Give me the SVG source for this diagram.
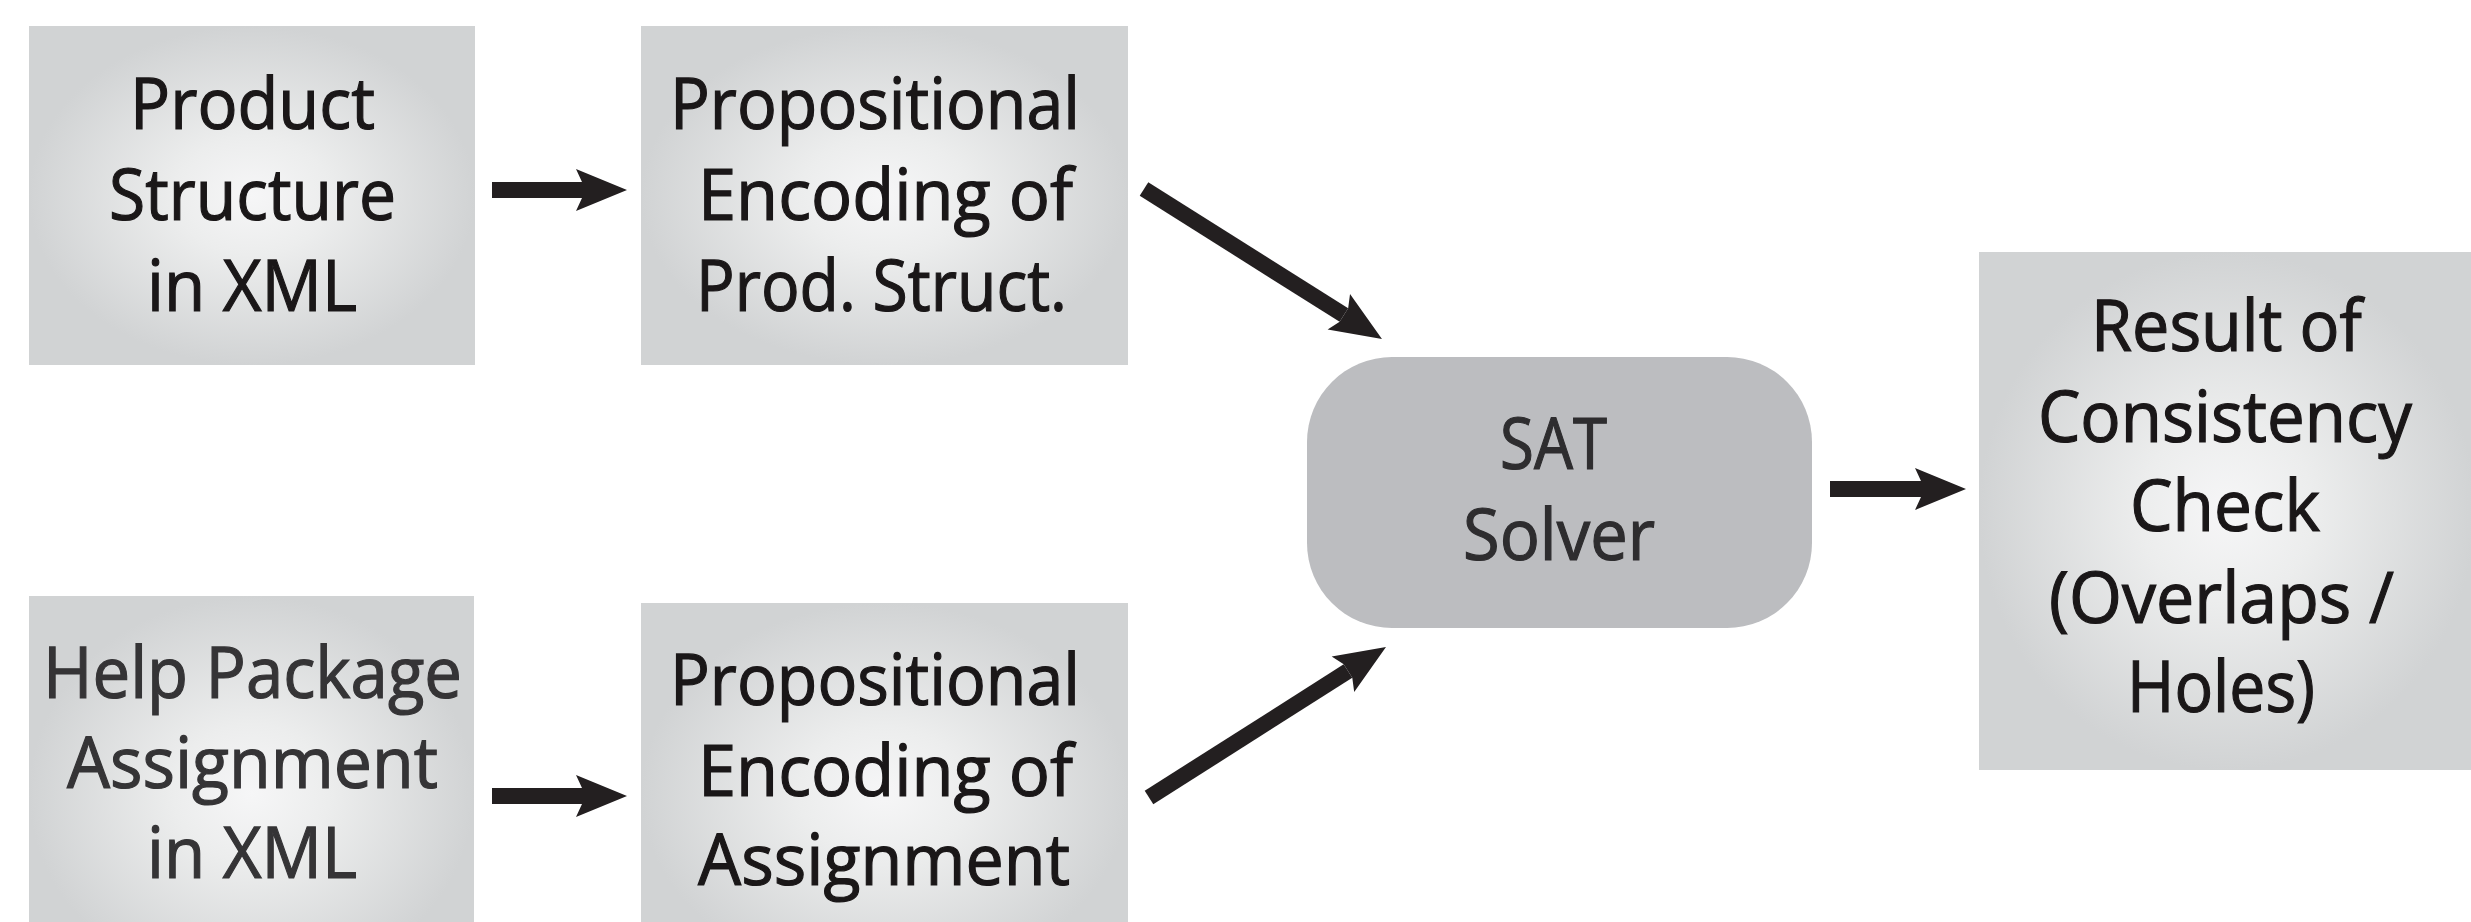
<svg xmlns="http://www.w3.org/2000/svg" width="2471" height="922" viewBox="0 0 2471 922">
<style>
.t{font-family:"Open Sans","Liberation Sans",sans-serif;font-size:71px;fill:#1a1718;stroke:#1a1718;stroke-width:1.2}
.g{fill:#353436;stroke:#353436}
.s{fill:#2e2d2f;stroke:#2e2d2f}
.c{stroke:#231f20;stroke-width:16;fill:none;stroke-linecap:butt}
</style>
<defs>
<radialGradient id="rg" cx="0.5" cy="0.5" r="0.5">
<stop offset="0" stop-color="#f6f6f7"/>
<stop offset="0.35" stop-color="#eceded"/>
<stop offset="1" stop-color="#d1d3d4"/>
</radialGradient>
<marker id="ah" viewBox="-52 -22 53 44" refX="-45" refY="0" markerWidth="53" markerHeight="44" markerUnits="userSpaceOnUse" orient="auto">
<path d="M-45,-8 L-51,-21 L0,0 L-51,21 L-45,8 Z" fill="#231f20"/>
</marker>
</defs>
<rect width="2471" height="922" fill="#fff"/>

<g id="product-structure">
<rect x="29" y="26" width="446" height="339" fill="url(#rg)"/>
<text class="t" x="130" y="129" textLength="245" lengthAdjust="spacingAndGlyphs">Product</text>
<text class="t" x="109" y="220" textLength="287" lengthAdjust="spacingAndGlyphs">Structure</text>
<text class="t" x="147" y="311" textLength="210" lengthAdjust="spacingAndGlyphs">in XML</text>
</g>

<g id="prop-encoding-prod">
<rect x="641" y="26" width="487" height="339" fill="url(#rg)"/>
<text class="t" x="670" y="129" textLength="410" lengthAdjust="spacingAndGlyphs">Propositional</text>
<text class="t" x="698" y="220" textLength="375" lengthAdjust="spacingAndGlyphs">Encoding of</text>
<text class="t" x="696" y="311" textLength="371" lengthAdjust="spacingAndGlyphs">Prod. Struct.</text>
</g>

<g id="help-package">
<rect x="29" y="596" width="445" height="394" fill="url(#rg)"/>
<text class="t g" x="43" y="698" textLength="419" lengthAdjust="spacingAndGlyphs">Help Package</text>
<text class="t g" x="67" y="788" textLength="371" lengthAdjust="spacingAndGlyphs">Assignment</text>
<text class="t g" x="147" y="878" textLength="210" lengthAdjust="spacingAndGlyphs">in XML</text>
</g>

<g id="prop-encoding-assign">
<rect x="641" y="603" width="487" height="380" fill="url(#rg)"/>
<text class="t" x="670" y="705" textLength="410" lengthAdjust="spacingAndGlyphs">Propositional</text>
<text class="t" x="698" y="796" textLength="375" lengthAdjust="spacingAndGlyphs">Encoding of</text>
<text class="t" x="698" y="885" textLength="372" lengthAdjust="spacingAndGlyphs">Assignment</text>
</g>

<g id="sat-solver">
<rect x="1307" y="357" width="505" height="271" rx="85" ry="85" fill="#bcbdc0"/>
<text class="t s" x="1500" y="469" textLength="107" lengthAdjust="spacingAndGlyphs">SAT</text>
<text class="t s" x="1463" y="560" textLength="192" lengthAdjust="spacingAndGlyphs">Solver</text>
</g>

<g id="result">
<rect x="1979" y="252" width="496" height="518" fill="url(#rg)"/>
<text class="t" x="2091" y="351" textLength="271" lengthAdjust="spacingAndGlyphs">Result of</text>
<text class="t" x="2038" y="442" textLength="374" lengthAdjust="spacingAndGlyphs">Consistency</text>
<text class="t" x="2130" y="531" textLength="190" lengthAdjust="spacingAndGlyphs">Check</text>
<text class="t" x="2049" y="623" textLength="345" lengthAdjust="spacingAndGlyphs">(Overlaps /</text>
<text class="t" x="2127" y="712" textLength="188" lengthAdjust="spacingAndGlyphs">Holes)</text>
</g>

<g id="connectors">
<line class="c" x1="492" y1="190" x2="582" y2="190" marker-end="url(#ah)"/>
<line class="c" x1="492" y1="796" x2="582" y2="796" marker-end="url(#ah)"/>
<line class="c" x1="1144" y1="189" x2="1343.9" y2="315" marker-end="url(#ah)"/>
<line class="c" x1="1149" y1="797.5" x2="1348" y2="671.1" marker-end="url(#ah)"/>
<line class="c" x1="1830" y1="489" x2="1921" y2="489" marker-end="url(#ah)"/>
</g>
</svg>
